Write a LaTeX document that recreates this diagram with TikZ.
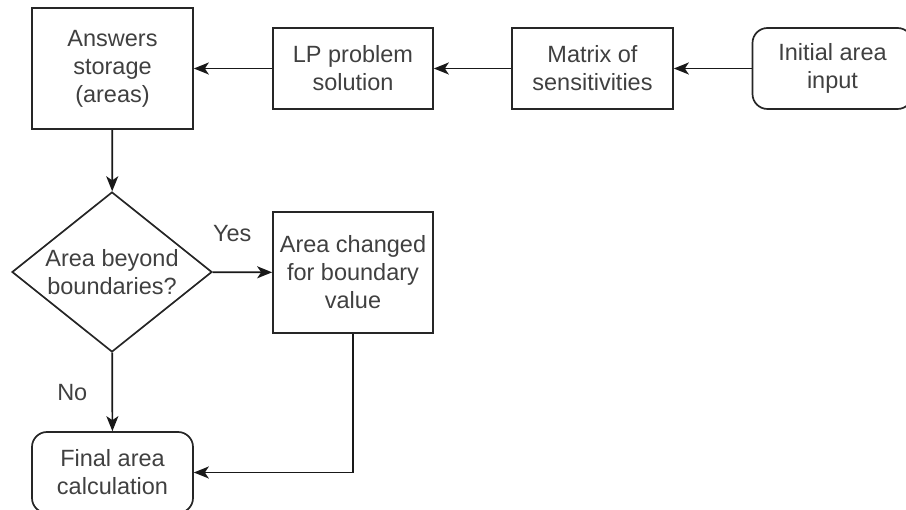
\documentclass[tikz,border=0pt]{standalone}
\usepackage{fontspec}
\setmainfont{Liberation Sans}
\usetikzlibrary{shapes.geometric,arrows.meta}

\tikzset{
  box/.style={draw=black!85,line width=1.7pt,align=center,text=black!75,
    font=\fontsize{23.5}{28}\selectfont,inner sep=0pt},
  roundbox/.style={box,rounded corners=15pt},
  decision/.style={box,diamond,aspect=1.25,inner sep=-1pt},
  flow/.style={draw=black!90,line width=1.7pt,
    -{Stealth[length=15pt,width=12pt,inset=4pt]}},
  tag/.style={text=black!75,font=\fontsize{23.5}{28}\selectfont}
}

\begin{document}
\begin{tikzpicture}[x=1pt,y=-1pt]
            \useasboundingbox (0,0) rectangle (906,510);

            \node[box,minimum width=161pt,minimum height=121pt] (STORE) at (112.5,68.5) {Answers\\storage\\(areas)};
            \node[box,minimum width=160pt,minimum height=81pt] (LP) at (353,68.5) {LP problem\\solution};
            \node[box,minimum width=161pt,minimum height=81pt] (MATRIX) at (592.5,68.5) {Matrix of\\sensitivities};
            \node[roundbox,minimum width=160pt,minimum height=81pt] (INPUT) at (832.5,68.5) {Initial area\\input};
            \node[decision,minimum width=200pt,minimum height=160pt] (CHECK) at (112,272) {Area beyond\\boundaries?};
            \node[box,minimum width=160pt,minimum height=121pt] (CHANGE) at (353,272.5) {Area changed\\for boundary\\value};
            \node[roundbox,minimum width=161pt,minimum height=81pt] (FINAL) at (112.5,472.5) {Final area\\calculation};

            \draw[flow] (INPUT) -- (MATRIX);
            \draw[flow] (MATRIX) -- (LP);
            \draw[flow] (LP) -- (STORE);
            \draw[flow] (STORE) -- (CHECK);
            \draw[flow] (CHECK) -- node[tag,pos=0.33,yshift=39pt] (YES) {Yes} (CHANGE);
            \draw[flow] (CHECK) -- node[tag,pos=0.51,xshift=-40pt] (NO) {No} (FINAL);
            \draw[flow] (CHANGE) |- (FINAL);

        \end{tikzpicture}
\end{document}
